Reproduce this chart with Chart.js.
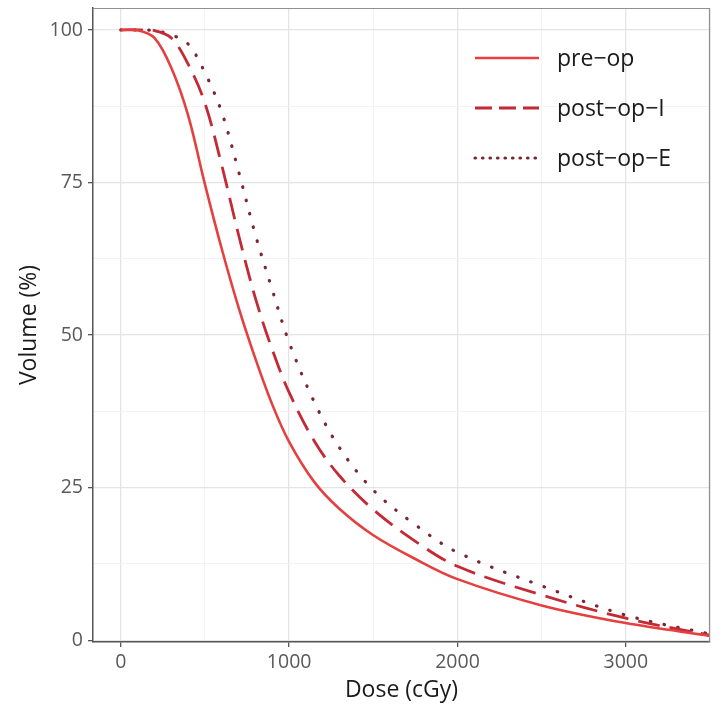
<!DOCTYPE html>
<html>
<head>
<meta charset="utf-8">
<script src="https://cdn.jsdelivr.net/npm/chart.js@4.4.1/dist/chart.umd.min.js"></script>
<style>
  html, body { margin: 0; background: #fff; }
  #wrap { width: 724px; height: 710px; }
</style>
</head>
<body>
<div id="wrap"><canvas id="dvhChart"></canvas></div>
<script>
var doses   = [0, 100, 200, 300, 400, 500, 600, 700, 800, 900, 1000, 1150, 1300, 1500, 1750, 2000, 2500, 3000, 3500];
var preOp   = [100, 99.95, 98.7, 93.8, 86, 74.7, 64.1, 54.5, 46.1, 38.6, 32.5, 25.9, 21.5, 17.2, 13.3, 10, 5.7, 2.8, 0.7];
var postOpI = [100, 100, 99.9, 98.7, 94.4, 88.0, 77.8, 66.4, 56.0, 47.6, 40.6, 32.6, 26.9, 21.4, 16.2, 12.1, 7.4, 3.6, 0.8];
var postOpE = [100, 100, 99.9, 99.2, 97.7, 93.0, 86.5, 76.8, 66.4, 57.4, 48.8, 39.0, 31.5, 24.6, 18.9, 14.4, 8.9, 4.1, 1.0];
var seriesNames = ["pre\u2212op", "post\u2212op\u2212I", "post\u2212op\u2212E"];

var xTicks = [0, 1000, 2000, 3000];
var xMinorTicks = [500, 1500, 2500, 3500];
var yTicks = [0, 25, 50, 75, 100];
var yMinorTicks = [12.5, 37.5, 62.5, 87.5];

function toPoints(vals) {
    return doses.map(function (d, i) { return { x: d, y: vals[i] }; });
}
function tickList(major, minor) {
    return major.concat(minor).sort(function (a, b) { return a - b; })
        .map(function (v) { return { value: v }; });
}
function isMajor(list, ctx) {
    return ctx.tick && list.indexOf(ctx.tick.value) >= 0;
}

Chart.defaults.font.family = "'Open Sans', 'DejaVu Sans', sans-serif";

// frame on top and right of the panel
var panelFrame = {
    id: 'panelFrame',
    afterDraw: function (chart) {
        var a = chart.chartArea, c = chart.ctx;
        c.save();
        c.strokeStyle = '#8f8f8f';
        c.lineWidth = 1.2;
        c.beginPath();
        c.moveTo(a.left, a.top + 0.5);
        c.lineTo(a.right - 0.5, a.top + 0.5);
        c.lineTo(a.right - 0.5, a.bottom);
        c.stroke();
        c.restore();
    }
};

// legend inside the panel, top right
var insideLegend = {
    id: 'insideLegend',
    afterDraw: function (chart) {
        var c = chart.ctx;
        var rows = [58, 108, 158];
        var dashes = [[], [17, 7], [0.5, 7]];
        var caps = ['butt', 'butt', 'round'];
        c.save();
        chart.data.datasets.forEach(function (ds, i) {
            c.strokeStyle = ds.borderColor;
            c.lineWidth = ds.borderWidth;
            c.setLineDash(dashes[i]);
            c.lineCap = caps[i];
            c.beginPath();
            c.moveTo(475, rows[i]);
            c.lineTo(539, rows[i]);
            c.stroke();
            c.setLineDash([]);
            c.fillStyle = '#1a1a1a';
            c.font = "23px 'Open Sans', 'DejaVu Sans', sans-serif";
            c.textBaseline = 'middle';
            c.fillText(ds.label, 557, rows[i] + 1);
        });
        c.restore();
    }
};

var ctx = document.getElementById('dvhChart').getContext('2d');
var dvhChart = new Chart(ctx, {
    type: 'line',
    data: {
        datasets: [
            {
                label: seriesNames[0],
                data: toPoints(preOp),
                borderColor: '#e4403f',
                borderWidth: 2.6,
                tension: 0.35,
                pointRadius: 0
            },
            {
                label: seriesNames[1],
                data: toPoints(postOpI),
                borderColor: '#c42a35',
                borderWidth: 2.8,
                borderDash: [22, 10],
                tension: 0.35,
                pointRadius: 0
            },
            {
                label: seriesNames[2],
                data: toPoints(postOpE),
                borderColor: '#7e2430',
                borderWidth: 3.2,
                borderDash: [0.5, 13.5],
                borderCapStyle: 'round',
                tension: 0.35,
                pointRadius: 0
            }
        ]
    },
    options: {
        responsive: true,
        maintainAspectRatio: false,
        animation: false,
        layout: { padding: { top: 8, right: 14, bottom: 0, left: 0 } },
        plugins: {
            legend: { display: false },
            tooltip: { enabled: false }
        },
        scales: {
            x: {
                type: 'linear',
                min: -165,
                max: 3500,
                afterBuildTicks: function (scale) { scale.ticks = tickList(xTicks, xMinorTicks); },
                afterFit: function (scale) {
                    scale.height = 68;
                    scale.paddingLeft = 0;
                    scale.paddingRight = 0;
                },
                ticks: {
                    autoSkip: false,
                    maxRotation: 0,
                    padding: 4,
                    color: '#595959',
                    font: { size: 19.5 },
                    callback: function (v) { return xTicks.indexOf(v) >= 0 ? String(v) : ''; }
                },
                grid: {
                    color: function (c) { return isMajor(xTicks, c) ? '#e4e4e4' : '#f2f2f2'; },
                    lineWidth: function (c) { return isMajor(xTicks, c) ? 1.3 : 0.9; },
                    tickColor: function (c) { return isMajor(xTicks, c) ? '#555555' : 'rgba(0,0,0,0)'; },
                    tickLength: 5,
                    tickWidth: 1.3
                },
                border: { color: '#555555', width: 1.5 },
                title: {
                    display: true,
                    text: 'Dose (cGy)',
                    color: '#1a1a1a',
                    font: { size: 23 },
                    padding: { top: 0, bottom: 6 }
                }
            },
            y: {
                type: 'linear',
                min: -0.3,
                max: 103.6,
                afterBuildTicks: function (scale) { scale.ticks = tickList(yTicks, yMinorTicks); },
                afterFit: function (scale) {
                    scale.width = 93;
                    scale.paddingTop = 0;
                    scale.paddingBottom = 0;
                },
                ticks: {
                    autoSkip: false,
                    padding: 5,
                    color: '#595959',
                    font: { size: 19.5 },
                    callback: function (v) { return yTicks.indexOf(v) >= 0 ? String(v) : ''; }
                },
                grid: {
                    color: function (c) { return isMajor(yTicks, c) ? '#e4e4e4' : '#f2f2f2'; },
                    lineWidth: function (c) { return isMajor(yTicks, c) ? 1.3 : 0.9; },
                    tickColor: function (c) { return isMajor(yTicks, c) ? '#555555' : 'rgba(0,0,0,0)'; },
                    tickLength: 5,
                    tickWidth: 1.3
                },
                border: { color: '#555555', width: 1.5 },
                title: {
                    display: true,
                    text: 'Volume (%)',
                    color: '#1a1a1a',
                    font: { size: 23 },
                    padding: { top: 16, bottom: 0 }
                }
            }
        }
    },
    plugins: [panelFrame, insideLegend]
});
</script>
</body>
</html>
